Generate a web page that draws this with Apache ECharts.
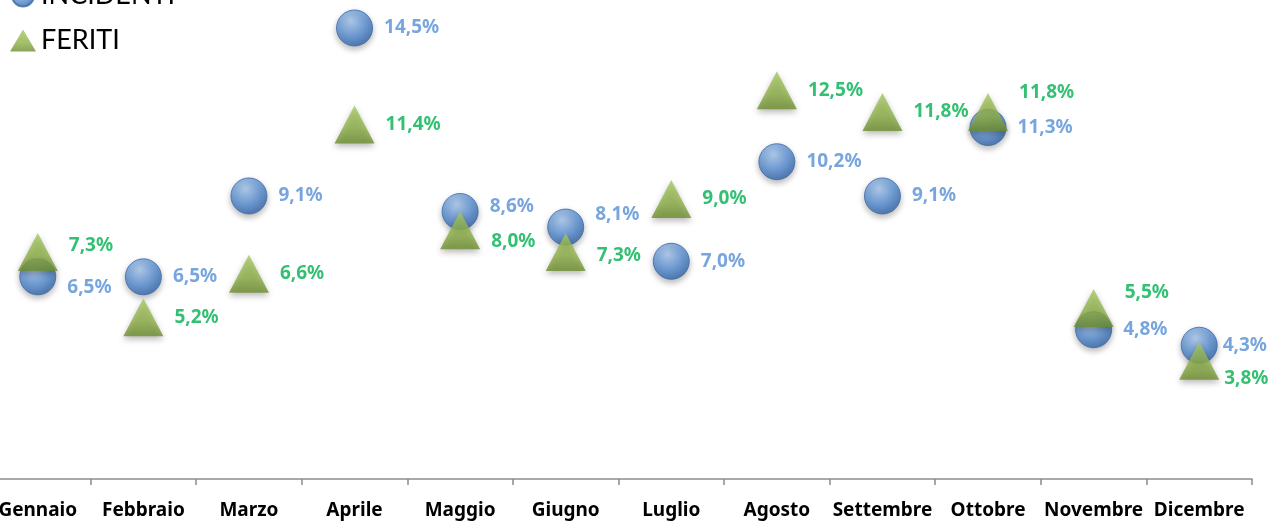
<!DOCTYPE html>
<html>
<head>
<meta charset="utf-8">
<script src="https://cdn.jsdelivr.net/npm/echarts@6/dist/echarts.min.js"></script>
<style>
  html, body { margin: 0; padding: 0; background: #fff; }
  #chart { width: 1269px; height: 522px; }
</style>
</head>
<body>
<div id="chart"></div>
<script>
// mesi
var mesi = ['Gennaio', 'Febbraio', 'Marzo', 'Aprile', 'Maggio', 'Giugno',
            'Luglio', 'Agosto', 'Settembre', 'Ottobre', 'Novembre', 'Dicembre'];
// percentuali
var incidenti = [6.5, 6.5, 9.1, 14.5, 8.6, 8.1, 7.0, 10.2, 9.1, 11.3, 4.8, 4.3];
var feriti = [7.3, 5.2, 6.6, 11.4, 8.0, 7.3, 9.0, 12.5, 11.8, 11.8, 5.5, 3.8];

// spostamento delle etichette sovrapposte (come nel grafico Excel)
var spostaX = [0, 0, 0, 0, 0, 0, 0, 0, 0, 0, 0, -6];
var spostaInc = [11, 0, 0, 0, -5, -12, 0, 0, 0, 0, 0, 0];
var spostaFer = [-6, 0, 0, 0, 11, 4, 0, 0, 0, -19, -15, 18];

var font = '"Noto Sans", Lato, sans-serif';

function fmt(p) {
    return p.value.toFixed(1).replace('.', ',') + '%';
}

function punti(valori, sposta) {
    return valori.map(function (v, i) {
        return { value: v, label: { offset: [spostaX[i], sposta[i]] } };
    });
}

var chart = echarts.init(document.getElementById('chart'));
var option = {
    animation: false,
    grid: { left: -15, right: 17, top: 0, bottom: 43, outerBoundsMode: 'none', containLabel: false },
    legend: {
        orient: 'vertical',
        left: 5,
        top: -23,
        itemWidth: 26,
        itemHeight: 22,
        itemGap: 18,
        textStyle: { fontFamily: 'Lato, sans-serif', fontSize: 27, color: '#000' },
        data: ['INCIDENTI', 'FERITI']
    },
    xAxis: {
        type: 'category',
        data: mesi,
        axisLine: { lineStyle: { color: '#8c8c8c', width: 1.5 } },
        axisTick: { show: true, length: 6, lineStyle: { color: '#8c8c8c', width: 1.5 } },
        axisLabel: {
            interval: 0,
            margin: 22,
            fontFamily: font,
            fontWeight: 'bold',
            fontSize: 19,
            color: '#000'
        }
    },
    yAxis: {
        type: 'value',
        min: 0,
        max: 15.4,
        show: false,
        splitLine: { show: false }
    },
    series: [
        {
            name: 'INCIDENTI',
            type: 'scatter',
            symbol: 'circle',
            symbolSize: 36,
            data: punti(incidenti, spostaInc),
            itemStyle: {
                color: new echarts.graphic.RadialGradient(0.4, 0.3, 0.75, [
                    { offset: 0, color: '#a9c9f0' },
                    { offset: 0.55, color: '#5a91d6' },
                    { offset: 1, color: '#2c5fa3' }
                ]),
                borderColor: '#3d6aa5',
                borderWidth: 1,
                shadowColor: 'rgba(0,0,0,0.35)',
                shadowBlur: 6,
                shadowOffsetY: 3
            },
            label: {
                show: true,
                position: 'right',
                distance: 11,
                formatter: fmt,
                fontFamily: font,
                fontWeight: 'bold',
                fontSize: 19,
                color: '#558ed5'
            }
        },
        {
            name: 'FERITI',
            type: 'scatter',
            symbol: 'triangle',
            symbolSize: [40, 38],
            data: punti(feriti, spostaFer),
            itemStyle: {
                color: new echarts.graphic.LinearGradient(0, 0, 0, 1, [
                    { offset: 0, color: '#a6c760' },
                    { offset: 0.6, color: '#8db046' },
                    { offset: 1, color: '#6b8c2e' }
                ]),
                shadowColor: 'rgba(0,0,0,0.35)',
                shadowBlur: 6,
                shadowOffsetY: 3
            },
            label: {
                show: true,
                position: 'right',
                distance: 11,
                formatter: fmt,
                fontFamily: font,
                fontWeight: 'bold',
                fontSize: 19,
                color: '#00b050'
            }
        }
    ]
};
chart.setOption(option);
</script>
</body>
</html>
